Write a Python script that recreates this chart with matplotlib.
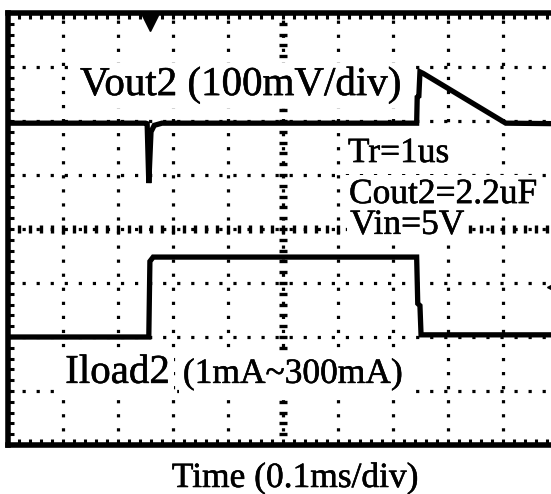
import numpy as np
import matplotlib
matplotlib.use("Agg")
from matplotlib import pyplot as plt
from matplotlib import patheffects as pe

# scope traces, x in divisions (0.1 ms/div), y in divisions from bottom
vout_t = [0, 2.50, 2.53, 2.56, 2.60, 2.66, 2.80, 7.43, 7.44, 7.47, 7.49, 7.55, 9.05, 10.0]
vout_v = [5.96, 5.96, 5.95, 4.85, 5.80, 5.92, 5.96, 5.96, 6.44, 6.46, 6.91, 6.88, 5.96, 5.95]

iload_t = [0, 2.56, 2.58, 2.64, 7.43, 7.45, 7.49, 7.51, 10.0]
iload_v = [2.00, 2.00, 3.40, 3.48, 3.48, 2.62, 2.58, 2.04, 2.04]

trig_x, trig_y = 2.58, 7.82      # trigger position marker
lvl_x, lvl_y = 9.95, 2.92        # trigger level marker

fs_big = 29.5
fs_small = 25.5
serif = ["Liberation Serif", "DejaVu Serif"]
heavy = [pe.withStroke(linewidth=0.4, foreground="black")]

fig = plt.figure(figsize=(5.51, 4.94), dpi=100)
# graticule runs a little past the right edge of the picture
ax = fig.add_axes([8 / 551, 49 / 494, 550 / 551, 432 / 494])
ax.set_xlim(0, 10)
ax.set_ylim(0, 8)

# dotted graticule
dot = (0, (1, 3.4))
for gx in range(1, 10):
    ax.axvline(gx, color="black", lw=2.3, ls=dot, dash_capstyle="butt", zorder=1)
for gy in range(1, 8):
    ax.axhline(gy, color="black", lw=2.3, ls=dot, dash_capstyle="butt", zorder=1)

# minor marks on the centre lines
sub_x = np.arange(0, 10.01, 0.2)
sub_y = np.arange(0, 8.01, 0.2)
ax.plot(sub_x, np.full_like(sub_x, 4.0), ls="none", marker="|", ms=6, mew=2.4, color="black", zorder=1)
ax.plot(np.full_like(sub_y, 5.0), sub_y, ls="none", marker="_", ms=6, mew=2.4, color="black", zorder=1)

# traces
ax.plot(vout_t, vout_v, color="black", lw=3.8, solid_joinstyle="miter", zorder=3)
ax.plot(iload_t, iload_v, color="black", lw=3.8, solid_joinstyle="miter", zorder=3)

ax.plot([trig_x], [trig_y], marker="v", ms=11, color="black", clip_on=False, zorder=4)
ax.plot([lvl_x], [lvl_y], marker="<", ms=12, color="black", clip_on=False, zorder=4)

# frame with inside ticks every 0.2 div
for s in ax.spines.values():
    s.set_linewidth(4)
ax.set_xticks(np.arange(0, 10.01, 0.2))
ax.set_yticks(np.arange(0, 8.01, 0.2))
ax.tick_params(direction="in", length=4, width=2.2, top=True, right=True,
               labelbottom=False, labelleft=False)

box = dict(boxstyle="square,pad=0.1", fc="white", ec="none")
labels = [
    (1.31, 6.48, "Vout2 (100mV/div)", fs_big),
    (6.18, 5.24, "Tr=1us", fs_small),
    (6.20, 4.48, "Cout2=2.2uF", fs_small),
    (6.22, 3.91, "Vin=5V", fs_small),
    (1.04, 1.15, "Iload2", fs_big),
    (3.18, 1.15, "(1mA~300mA)", fs_small),
]
for lx, ly, s, fs in labels:
    ax.text(lx, ly, s, fontsize=fs, family=serif, va="baseline", bbox=box,
            path_effects=heavy, zorder=2)

fig.text(295 / 551, 1 - 487 / 494, "Time (0.1ms/div)", fontsize=fs_small, family=serif,
         ha="center", va="baseline", path_effects=heavy)

fig.savefig("out.png", dpi=100)
